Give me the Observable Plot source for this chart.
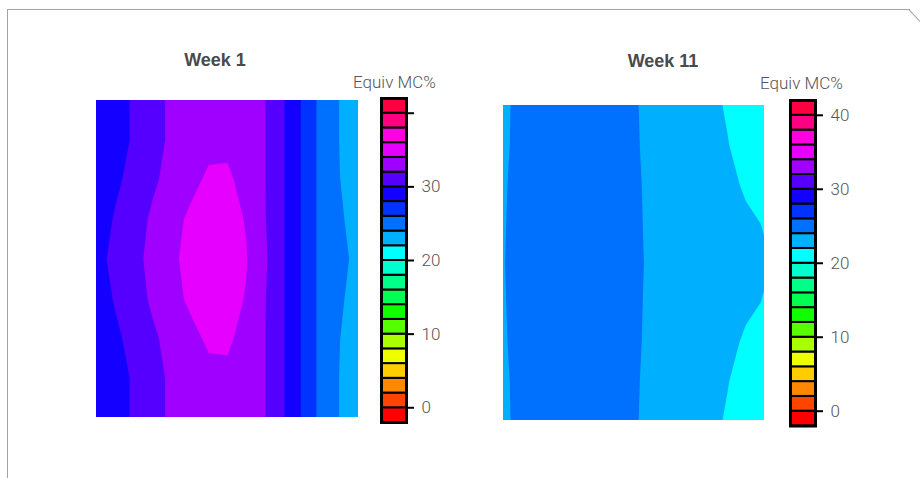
<!DOCTYPE html>
<html><head><meta charset="utf-8">
<script src="https://cdn.jsdelivr.net/npm/d3@7"></script>
<script src="https://cdn.jsdelivr.net/npm/@observablehq/plot@0.6"></script>
<style>
html,body{margin:0;padding:0;background:#fff;}
#root{position:relative;width:920px;height:478px;overflow:hidden;background:#fff;}
.abs{position:absolute;}
.title{font-family:"Liberation Sans",Arial,sans-serif;font-weight:bold;font-size:18px;color:#4a4a4a;white-space:nowrap;line-height:1;transform:translateX(-50%);}
.lab{font-family:Roboto,"Liberation Sans",sans-serif;font-weight:300;font-size:17px;color:#555;white-space:nowrap;line-height:1;}
</style></head><body><div id="root"></div>
<script>
// colour bins (bottom to top), each 2 units wide, from -2 to 42
const palette = ["#ff0000","#ff4400","#ff8800","#ffcc00","#eeff00","#aaff00","#55ff00","#10ff00",
  "#00ff50","#00ff88","#00ffcc","#00ffff","#00b0ff","#0070ff","#0033ff","#1400ff",
  "#5500ff","#a000ff","#e600ff","#ff00e0","#ff0080","#ff0040"];
const binEdges = [-2,0,2,4,6,8,10,12,14,16,18,20,22,24,26,28,30,32,34,36,38,40,42];
const tickValues = [0,10,20,30,40];
const titles = ["Week 1","Week 11"];
const legendTitle = "Equiv MC%";

// Moisture content grids (rows top→bottom, columns left→right)
const week1Grid = [
  [29.0,29.5,30.15,31.2,32.4,32.9,33.2,33.3,33.0,32.05,30.1,27.8,25.4,23.95,23.2],
  [29.0,29.5,30.15,31.2,32.4,32.9,33.5,33.6,33.0,32.05,30.1,27.8,25.4,23.95,23.2],
  [29.0,29.7,30.5,31.7,32.6,33.5,34.3,34.3,33.4,32.05,30.1,27.8,25.4,24.02,23.3],
  [29.1,30.15,31.2,32.3,33.4,34.3,34.7,34.6,33.9,32.1,30.1,27.8,25.4,24.2,23.4],
  [29.3,30.6,31.5,32.5,33.6,34.6,35.0,34.9,34.1,32.3,30.1,27.8,25.4,24.4,23.6],
  [29.1,30.15,31.2,32.3,33.4,34.3,34.7,34.6,33.9,32.1,30.1,27.8,25.4,24.2,23.4],
  [29.0,29.7,30.5,31.7,32.6,33.5,34.3,34.3,33.4,32.05,30.1,27.8,25.4,24.02,23.3],
  [29.0,29.5,30.15,31.2,32.4,32.9,33.5,33.6,33.0,32.05,30.1,27.8,25.4,23.95,23.2],
  [29.0,29.5,30.15,31.2,32.4,32.9,33.2,33.3,33.0,32.05,30.1,27.8,25.4,23.95,23.2]
];
const week11Grid = [
  [23.7,24.5,25.0,25.3,25.4,25.3,25.0,24.2,23.4,23.0,22.6,22.3,21.9,21.5,21.2],
  [23.75,24.5,25.0,25.3,25.4,25.3,25.0,24.25,23.45,23.05,22.7,22.4,22.05,21.6,21.3],
  [23.85,24.55,25.05,25.35,25.45,25.35,25.05,24.35,23.5,23.1,22.8,22.55,22.3,21.85,21.5],
  [23.9,24.6,25.1,25.4,25.5,25.4,25.1,24.4,23.55,23.2,22.9,22.65,22.45,22.2,21.95],
  [23.95,24.6,25.1,25.4,25.5,25.4,25.1,24.45,23.6,23.25,22.95,22.7,22.5,22.3,22.1],
  [23.9,24.6,25.1,25.4,25.5,25.4,25.1,24.4,23.55,23.2,22.9,22.65,22.45,22.2,21.95],
  [23.85,24.55,25.05,25.35,25.45,25.35,25.05,24.35,23.5,23.1,22.8,22.55,22.3,21.85,21.5],
  [23.75,24.5,25.0,25.3,25.4,25.3,25.0,24.25,23.45,23.05,22.7,22.4,22.05,21.6,21.3],
  [23.7,24.5,25.0,25.3,25.4,25.3,25.0,24.2,23.4,23.0,22.6,22.3,21.9,21.5,21.2]
];

const root = document.getElementById("root");
function place(el, left, top) { el.style.position = "absolute"; el.style.left = left + "px"; el.style.top = top + "px"; root.appendChild(el); return el; }
function div(cls, text, left, top) { const d = document.createElement("div"); d.className = cls; d.textContent = text; return place(d, left, top); }

const thresholds = binEdges.slice(0, -1);
const colorDomain = binEdges.slice(1, -1);

function heat(grid, w, h) {
  const nRows = grid.length, nCols = grid[0].length;
  return Plot.plot({
    width: w, height: h, margin: 0,
    x: {domain: [0, nCols - 1], axis: null},
    y: {domain: [0, nRows - 1], axis: null, reverse: true},
    color: {type: "threshold", domain: colorDomain, range: palette},
    marks: [
      Plot.contour(grid.flat(), {width: nCols, height: nRows, x1: -0.5, y1: -0.5, x2: nCols - 0.5, y2: nRows - 0.5,
        fill: Plot.identity, thresholds, clip: true})
    ]
  });
}

const bins = palette.map((c, k) => ({color: c, lo: binEdges[k], hi: binEdges[k + 1]}));
function bar(h, fmt) {
  return Plot.plot({
    width: 79, height: h, marginLeft: 4, marginTop: 4, marginBottom: 4, marginRight: 50,
    x: {domain: [0, 1], axis: null},
    y: {domain: [binEdges[0], binEdges[binEdges.length - 1]]},
    color: {type: "identity"},
    style: {fontFamily: "Roboto, 'Liberation Sans', sans-serif", fontWeight: 300, fontSize: "17px", color: "#555", background: "transparent", overflow: "visible"},
    marks: [
      Plot.rect(bins, {x1: 0, x2: 1, y1: "lo", y2: "hi", fill: "color", stroke: "black", strokeWidth: 2}),
      Plot.frame({stroke: "black", strokeWidth: 3}),
      Plot.axisY({anchor: "right", ticks: tickValues, tickSize: 7, tickPadding: 8, stroke: "black", strokeWidth: 2,
        fill: "#555", fontSize: 17, tickFormat: fmt, label: null})
    ]
  });
}

// decorative panel border
const b = document.createElement("div");
b.style.cssText = "border-top:1.5px solid #aaa0a0;border-left:1.5px solid #aaa0a0;width:902px;height:480px;";
place(b, 7, 9);
const diag = document.createElement("div");
diag.style.cssText = "border-top:1.5px solid #aaa0a0;width:17px;height:0;transform-origin:0 0;transform:rotate(47deg);";
place(diag, 909, 9);

place(heat(week1Grid, 262, 317), 96, 100);
place(heat(week11Grid, 261, 315), 503, 105);
place(bar(332, d => d === 40 ? "" : d), 377, 94);
place(bar(333.5, d => d), 786, 95.5);

div("title", titles[0], 215, 51);
div("title", titles[1], 663, 52);
div("lab", legendTitle, 353, 74);
div("lab", legendTitle, 760, 75);
</script></body></html>
